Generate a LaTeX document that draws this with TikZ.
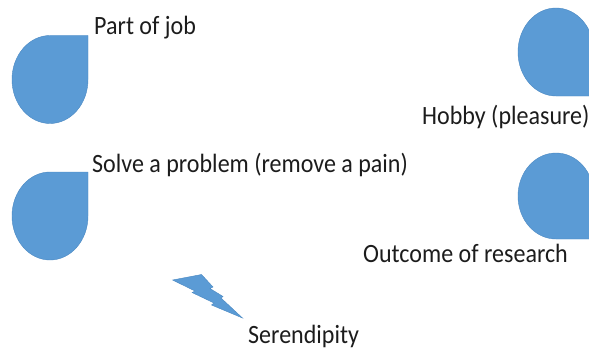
\documentclass[tikz,border=0pt]{standalone}
\usepackage{fontspec}
\setmainfont{Carlito}
\definecolor{dropblue}{HTML}{5B9BD5}
\definecolor{dropedge}{HTML}{4A88C2}
\definecolor{txt}{HTML}{1C1C1C}
\newcommand{\sq}[1]{\scalebox{0.91}[1]{#1}}
\begin{document}
\begin{tikzpicture}[x=1pt,y=-1pt,
  drop/.style={fill=dropblue,draw=dropedge,line width=0.4pt},
  lbl/.style={anchor=base west,inner sep=0pt,text=txt,font=\fontsize{26.4}{30}\selectfont}]
\useasboundingbox (0,0) rectangle (589,353);
\clip (0,0) rectangle (589,353);
% left drops (corner top-right)
\path[drop] (88,35.5) -- (50,35.5) arc[start angle=270,end angle=0,x radius=38,y radius=44] -- cycle;
\path[drop] (88,172) -- (50,172) arc[start angle=270,end angle=0,x radius=38,y radius=44] -- cycle;
% right drops (corner bottom-right)
\path[drop] (594,96) -- (556,96) arc[start angle=90,end angle=360,x radius=38,y radius=44] -- cycle;
\path[drop] (594,239) -- (556,239) arc[start angle=90,end angle=360,x radius=38,y radius=43] -- cycle;
% lightning bolt
\path[drop] (172.5,280) -- (201.5,274.5) -- (213,287) -- (210,288.5) -- (223,296.5) -- (221,298)
  -- (242.5,318) -- (211.5,305) -- (214,303) -- (192,292.5) -- (195,291) -- cycle;
% labels
\node[lbl] (job) at (94,35) {\sq{Part of job}};
\node[lbl] (solve) at (92,172) {\sq{Solve a problem (remove a pain)}};
\node[lbl] (hobby) at (422,124) {\sq{Hobby (pleasure)}};
\node[lbl] (research) at (363,262) {\sq{Outcome of research}};
\node[lbl] (seren) at (248,343) {\sq{Serendipity}};
\end{tikzpicture}
\end{document}
